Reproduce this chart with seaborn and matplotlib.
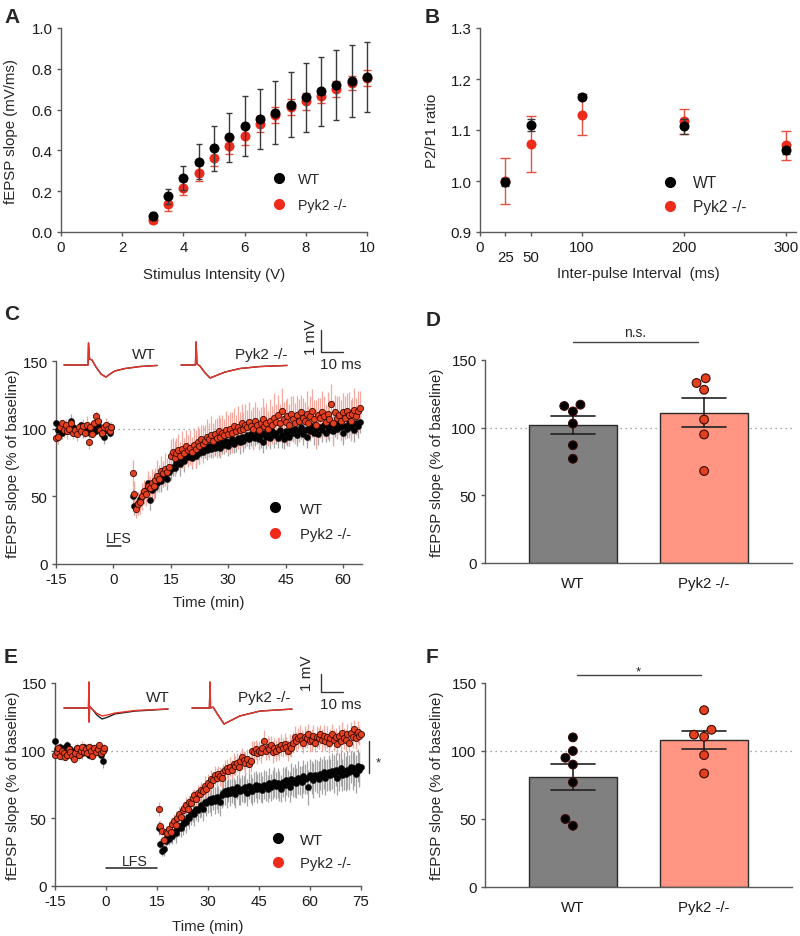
import numpy as np
import pandas as pd
import matplotlib
matplotlib.use("Agg")
import matplotlib.pyplot as plt
from matplotlib.lines import Line2D
import seaborn as sns

# ---------------- data ----------------
# A: input-output
io_volts = [3, 3.5, 4, 4.5, 5, 5.5, 6, 6.5, 7, 7.5, 8, 8.5, 9, 9.5, 10]
io_wt = [0.08, 0.175, 0.265, 0.345, 0.41, 0.465, 0.52, 0.555, 0.585, 0.625, 0.66, 0.69, 0.72, 0.74, 0.76]
io_wt_err = [0.02, 0.038, 0.06, 0.085, 0.11, 0.12, 0.147, 0.147, 0.153, 0.16, 0.17, 0.17, 0.17, 0.178, 0.17]
io_ko = [0.06, 0.135, 0.215, 0.29, 0.362, 0.422, 0.472, 0.53, 0.575, 0.612, 0.64, 0.665, 0.70, 0.73, 0.755]
io_ko_err = [0.015, 0.03, 0.035, 0.04, 0.04, 0.04, 0.045, 0.04, 0.04, 0.04, 0.04, 0.035, 0.04, 0.035, 0.04]

# B: paired-pulse ratio
ppf_interval = [25, 50, 100, 200, 300]
ppf_wt = [0.998, 1.110, 1.165, 1.107, 1.060]
ppf_wt_err = [0.008, 0.012, 0.005, 0.015, 0.007]
ppf_ko = [1.000, 1.072, 1.130, 1.117, 1.070]
ppf_ko_err = [0.045, 0.055, 0.040, 0.025, 0.028]

# C: LFS 2 min time course (baseline -15..-0.5 min, post 5..64.5 min, 0.5 min steps)
c_base_start, c_post_start, tc_step = -15.0, 5.0, 0.5
c_wt_base = [104, 99, 101, 97, 103, 100, 98, 102, 106, 101, 99, 97, 100, 103, 98,
             101, 102, 100, 97, 99, 101, 98, 103, 100, 96, 94, 99, 102, 97, 101]
c_wt_base_err = [3, 4, 3, 5, 3, 4, 3, 4, 5, 3, 4, 3, 4, 3, 5, 4, 3, 4, 3, 4, 5, 3, 4, 3, 4, 5, 3, 4, 3, 4]
c_ko_base = [93, 94, 101, 104, 99, 103, 98, 100, 104, 97, 99, 96, 101, 98, 102,
             97, 103, 90, 101, 96, 104, 109, 106, 99, 97, 101, 103, 100, 98, 101]
c_ko_base_err = [4, 5, 4, 3, 5, 4, 6, 4, 3, 5, 4, 5, 4, 3, 5, 4, 6, 5, 4, 3, 5, 4, 3, 5, 4, 3, 5, 4, 3, 4]
c_wt_post = [50, 43, 42, 45, 48, 50, 52, 55, 60, 47,
             55, 58, 57, 60, 62, 61, 64, 66, 63, 68,
             70, 72, 71, 75, 77, 74, 78, 76, 80, 79,
             81, 78, 83, 80, 84, 82, 85, 83, 86, 84,
             87, 85, 88, 86, 89, 87, 86, 90, 88, 91,
             87, 90, 92, 89, 91, 93, 90, 94, 91, 93,
             95, 92, 96, 94, 93, 97, 92, 95, 90, 97,
             94, 96, 93, 98, 95, 97, 93, 99, 95, 92,
             98, 96, 94, 99, 97, 100, 95, 98, 101, 96,
             99, 94, 100, 98, 102, 97, 100, 96, 101, 99,
             103, 97, 101, 99, 103, 98, 102, 100, 104, 101,
             97, 102, 100, 104, 101, 103, 99, 104, 102, 105]
c_wt_post_err = [6, 7, 6, 8, 7, 6, 8, 7, 6, 7,
                 7, 6, 8, 7, 6, 8, 7, 6, 8, 7,
                 8, 7, 6, 8, 7, 9, 7, 8, 6, 7,
                 7, 8, 6, 9, 7, 8, 7, 6, 8, 7,
                 8, 7, 9, 6, 8, 7, 8, 9, 7, 8,
                 7, 9, 8, 7, 8, 6, 9, 7, 8, 7,
                 8, 7, 9, 8, 6, 8, 7, 9, 8, 7,
                 9, 7, 8, 6, 9, 8, 7, 8, 9, 7,
                 8, 9, 7, 8, 6, 9, 8, 7, 9, 8,
                 7, 8, 9, 7, 8, 9, 6, 8, 7, 9,
                 8, 7, 9, 8, 7, 9, 8, 7, 8, 9,
                 9, 8, 7, 9, 8, 7, 9, 8, 9, 8]
c_ko_post = [67, 52, 41, 44, 46, 50, 54, 52, 58, 56,
             60, 58, 62, 65, 63, 69, 67, 70, 68, 72,
             80, 83, 78, 82, 84, 80, 85, 82, 87, 84,
             86, 83, 88, 85, 90, 87, 92, 89, 91, 94,
             92, 95, 91, 96, 93, 98, 94, 97, 95, 99,
             96, 100, 97, 102, 98, 101, 99, 104, 100, 103,
             101, 105, 102, 100, 106, 103, 99, 104, 107, 102,
             104, 100, 106, 103, 108, 105, 110, 104, 113, 107,
             105, 109, 103, 111, 107, 104, 110, 106, 112, 108,
             106, 111, 104, 109, 113, 107, 103, 110, 108, 112,
             109, 105, 111, 107, 118, 104, 112, 108, 110, 106,
             112, 108, 113, 110, 106, 111, 114, 109, 113, 115]
c_ko_post_err = [10, 9, 7, 8, 9, 10, 8, 9, 11, 9,
                 10, 11, 9, 12, 10, 11, 9, 12, 10, 11,
                 12, 10, 13, 11, 12, 10, 13, 11, 12, 11,
                 13, 11, 12, 14, 12, 13, 11, 14, 12, 13,
                 12, 14, 13, 11, 15, 12, 14, 13, 12, 14,
                 14, 12, 15, 13, 12, 16, 13, 14, 12, 15,
                 13, 15, 12, 16, 14, 13, 15, 12, 16, 14,
                 15, 13, 16, 14, 18, 13, 15, 14, 17, 13,
                 16, 14, 15, 13, 17, 15, 14, 16, 13, 15,
                 14, 17, 13, 15, 16, 14, 18, 13, 15, 16,
                 15, 13, 16, 14, 15, 17, 13, 16, 14, 15,
                 14, 16, 13, 17, 15, 12, 16, 14, 15, 13]

# E: LFS 15 min time course (baseline -15..-0.5, post 15.5..75 min)
e_base_start, e_post_start = -15.0, 15.5
e_wt_base = [107, 101, 99, 103, 97, 102, 100, 104, 98, 101, 99, 96, 100, 102, 97,
             101, 98, 103, 99, 100, 97, 102, 98, 101, 99, 103, 100, 97, 92, 101]
e_wt_base_err = [3, 4, 3, 3, 4, 3, 4, 3, 3, 4, 3, 4, 3, 3, 4, 3, 4, 3, 3, 4, 3, 4, 3, 4, 3, 3, 4, 3, 5, 4]
e_ko_base = [97, 99, 102, 96, 100, 98, 95, 97, 101, 99, 96, 94, 98, 102, 97,
             100, 103, 99, 101, 98, 103, 100, 96, 102, 99, 101, 104, 98, 100, 102]
e_ko_base_err = [3, 3, 4, 3, 3, 4, 3, 3, 4, 3, 4, 3, 3, 4, 3, 3, 4, 3, 4, 3, 3, 4, 3, 3, 4, 3, 3, 4, 3, 3]
e_wt_post = [43, 31, 26, 27, 33, 36, 35, 38, 37, 40,
             39, 42, 44, 43, 46, 48, 47, 51, 50, 53,
             55, 53, 57, 56, 58, 60, 57, 62, 61, 63,
             64, 62, 65, 63, 66, 64, 62, 67, 69, 70,
             68, 71, 69, 72, 70, 68, 73, 71, 70, 72,
             71, 73, 69, 74, 72, 70, 73, 75, 72, 74,
             73, 71, 75, 74, 72, 76, 73, 75, 77, 74,
             76, 74, 72, 77, 75, 78, 76, 73, 79, 77,
             78, 76, 80, 78, 77, 81, 79, 80, 73, 82,
             80, 78, 82, 81, 79, 83, 81, 84, 80, 82,
             84, 82, 85, 83, 86, 80, 84, 87, 82, 85,
             83, 86, 84, 88, 85, 87, 83, 89, 86, 88]
e_wt_post_err = [5, 4, 4, 5, 5, 6, 5, 6, 6, 6,
                 7, 6, 7, 7, 8, 7, 8, 7, 8, 8,
                 8, 9, 8, 9, 8, 9, 9, 8, 9, 9,
                 9, 10, 9, 10, 9, 10, 10, 9, 10, 10,
                 10, 9, 10, 11, 10, 10, 9, 11, 10, 10,
                 10, 11, 10, 10, 11, 10, 11, 10, 11, 10,
                 11, 10, 11, 11, 10, 11, 10, 11, 11, 10,
                 11, 11, 10, 11, 12, 11, 10, 11, 12, 11,
                 12, 11, 12, 11, 12, 12, 11, 12, 13, 12,
                 12, 13, 12, 12, 13, 12, 13, 12, 13, 12,
                 13, 12, 13, 14, 12, 13, 14, 13, 12, 14,
                 13, 14, 13, 12, 14, 13, 14, 12, 13, 14]
e_ko_post = [57, 44, 41, 34, 40, 39, 42, 40, 46, 48,
             45, 50, 53, 51, 56, 58, 60, 57, 62, 61,
             65, 67, 64, 69, 68, 71, 70, 74, 72, 76,
             75, 79, 78, 82, 80, 83, 81, 80, 84, 86,
             87, 85, 88, 86, 90, 89, 91, 88, 92, 95,
             93, 91, 94, 90, 92, 100, 99, 101, 98, 100,
             99, 102, 107, 100, 103, 101, 104, 99, 102, 100,
             103, 101, 104, 102, 105, 103, 100, 104, 102, 106,
             110, 107, 109, 111, 108, 106, 110, 109, 112, 107,
             108, 111, 106, 110, 109, 112, 108, 111, 107, 110,
             106, 109, 112, 108, 110, 105, 111, 107, 113, 109,
             108, 112, 106, 113, 110, 116, 109, 114, 111, 112]
e_ko_post_err = [5, 4, 4, 4, 4, 5, 4, 5, 5, 5,
                 5, 5, 6, 5, 6, 5, 6, 6, 5, 6,
                 6, 5, 6, 6, 7, 6, 6, 7, 6, 7,
                 6, 7, 6, 7, 7, 6, 7, 7, 6, 7,
                 7, 6, 7, 7, 8, 7, 7, 8, 7, 7,
                 7, 8, 7, 7, 8, 7, 8, 7, 8, 7,
                 8, 7, 8, 7, 8, 8, 7, 8, 7, 8,
                 7, 8, 8, 7, 8, 7, 8, 8, 7, 8,
                 8, 7, 8, 8, 7, 8, 8, 7, 8, 8,
                 8, 8, 7, 8, 8, 7, 8, 8, 7, 8,
                 8, 7, 8, 8, 7, 8, 8, 7, 8, 8,
                 8, 8, 7, 8, 8, 7, 8, 8, 7, 9]

# D / F: individual slices (% of baseline)
groups = ['WT', 'Pyk2 -/-']
d_wt = [116, 112, 117, 103, 87, 77]
d_ko = [133, 136.5, 128, 106, 95, 68]
f_wt = [110, 100, 95, 90, 77, 50, 45]
f_ko = [130, 115.6, 110.5, 112, 97, 83.5]

# example traces (ms, mV)
c_wt_tr_t = [0, 11.2, 11.4, 11.9, 13.0, 14.9, 17.2, 19.5, 21.4, 23.7, 28.4, 35.3, 43.3]
c_wt_tr_v = [0, 0, 1.0, 0.27, 0.23, -0.09, -0.41, -0.55, -0.41, -0.27, -0.16, -0.07, -0.02]
c_ko_tr_t = [0, 6.7, 7.0, 7.4, 8.8, 11.2, 13.5, 15.8, 20.5, 27.4, 36.7, 49.3]
c_ko_tr_v = [0, 0, 1.05, 0.05, -0.05, -0.36, -0.59, -0.5, -0.32, -0.16, -0.07, -0.02]
e_wt_tr_t = [0, 11.4, 11.6, 11.7, 11.9, 13.0, 15.3, 17.7, 20.5, 23.7, 33.0, 48.4]
e_wt_tr_v_black = [0, 0, 1.44, -0.78, 0.1, -0.05, -0.39, -0.61, -0.5, -0.33, -0.17, -0.06]
e_wt_tr_v_red = [0, 0, 1.44, -0.78, 0.1, -0.05, -0.30, -0.44, -0.38, -0.28, -0.14, -0.05]
e_ko_tr_t = [0, 8.1, 8.4, 8.6, 9.8, 12.1, 14.9, 16.7, 22.3, 31.6, 46.5]
e_ko_tr_v = [0, 0, 1.44, 0, 0.05, -0.39, -0.89, -0.78, -0.44, -0.17, -0.06]

# ---------------- style ----------------
sns.set_style("ticks")
plt.rcParams['font.family'] = ['Liberation Sans', 'DejaVu Sans']
plt.rcParams['axes.unicode_minus'] = False
plt.rcParams['axes.edgecolor'] = '#5a5a5a'
plt.rcParams['axes.linewidth'] = 1.0
plt.rcParams['xtick.color'] = '#5a5a5a'
plt.rcParams['ytick.color'] = '#5a5a5a'
plt.rcParams['xtick.labelcolor'] = '#1a1a1a'
plt.rcParams['ytick.labelcolor'] = '#1a1a1a'

BLACK = '#000000'
RED = '#EE2B1B'
RED_ERR = '#E4503F'
TC_RED = '#E2401F'
TC_RED_EDGE = '#3a0a05'
TC_RED_ERR = '#F5A89E'
TC_GRAY_ERR = '#A3A3A3'
BAR_GRAY = '#808080'
BAR_SALMON = '#FF9582'
TRACE_RED = '#E8332A'
FS = 10.8
LAB_FS = 10.8
TR_FS = 11

W, H = 800, 937
fig = plt.figure(figsize=(8, 9.37), dpi=100)


def rect(l, t, r, b):
    return [l / W, 1 - b / H, (r - l) / W, (b - t) / H]


def style_axis(ax, l, t, r, b, ylab_right=None, xlab_top=None):
    sns.despine(ax=ax)
    ax.tick_params(length=3.0, width=1.0, pad=3, labelsize=FS)
    if ylab_right is not None:
        ax.yaxis.set_label_coords((ylab_right - l) / (r - l), 0.5)
    if xlab_top is not None:
        ax.xaxis.set_label_coords(0.5, -(xlab_top - b) / (b - t))


def add_legend(ax, mx, my, gap_text, row_gap, wt_color, ko_color, fs, ms=7):
    fs_px = fs * 100 / 72
    hl = 1.0
    htp = gap_text / fs_px - hl / 2
    ls = (row_gap - 1.16 * fs_px) / fs_px
    handles = [Line2D([], [], ls='', marker='o', ms=ms, mfc=wt_color, mec=wt_color),
               Line2D([], [], ls='', marker='o', ms=ms, mfc=ko_color, mec=ko_color)]
    ax.legend(handles, groups, loc='center left',
              bbox_to_anchor=((mx - hl * fs_px / 2) / W, 1 - (my + row_gap / 2) / H),
              bbox_transform=fig.transFigure, frameon=False, borderpad=0,
              borderaxespad=0, handlelength=hl, handletextpad=htp,
              labelspacing=ls, fontsize=fs)


def panel_letter(x, y, s):
    fig.text(x / W, 1 - y / H, s, fontsize=15, fontweight='bold', ha='left', va='top')


# ---------------- A ----------------
A = (61, 29, 367, 233)
axA = fig.add_axes(rect(*A))
axA.errorbar(io_volts, io_ko, yerr=io_ko_err, fmt='none', ecolor=RED_ERR, elinewidth=1,
             capsize=3, capthick=1, zorder=2, clip_on=False)
sns.scatterplot(x=io_volts, y=io_ko, color=RED, s=52, edgecolor=RED, linewidth=0,
                ax=axA, zorder=3, clip_on=False, legend=False)
axA.errorbar(io_volts, io_wt, yerr=io_wt_err, fmt='none', ecolor='#3a3a3a', elinewidth=1,
             capsize=2.3, capthick=1, zorder=4, clip_on=False)
sns.scatterplot(x=io_volts, y=io_wt, color=BLACK, s=52, edgecolor=BLACK, linewidth=0,
                ax=axA, zorder=5, clip_on=False, legend=False)
axA.set_xlim(0, 10)
axA.set_ylim(0, 1.0)
axA.set_xticks([0, 2, 4, 6, 8, 10])
axA.set_yticks([0, 0.2, 0.4, 0.6, 0.8, 1.0])
axA.set_yticklabels(['0.0', '0.2', '0.4', '0.6', '0.8', '1.0'])
axA.set_xlabel('Stimulus Intensity (V)', fontsize=LAB_FS)
axA.set_ylabel('fEPSP slope (mV/ms)', fontsize=LAB_FS)
style_axis(axA, *A, ylab_right=18, xlab_top=268)
add_legend(axA, 279, 179, 19, 28, BLACK, RED, fs=10.2)
panel_letter(4, 8, 'A')

# ---------------- B ----------------
B = (480, 29, 796, 233)
axB = fig.add_axes(rect(*B))
axB.errorbar(ppf_interval, ppf_ko, yerr=ppf_ko_err, fmt='none', ecolor=RED_ERR, elinewidth=1,
             capsize=3.5, capthick=1, zorder=2, clip_on=False)
sns.scatterplot(x=ppf_interval, y=ppf_ko, color=RED, s=52, edgecolor=RED, linewidth=0,
                ax=axB, zorder=3, clip_on=False, legend=False)
axB.errorbar(ppf_interval, ppf_wt, yerr=ppf_wt_err, fmt='none', ecolor='#3a3a3a', elinewidth=1,
             capsize=3, capthick=1, zorder=4, clip_on=False)
sns.scatterplot(x=ppf_interval, y=ppf_wt, color=BLACK, s=52, edgecolor=BLACK, linewidth=0,
                ax=axB, zorder=5, clip_on=False, legend=False)
axB.set_xlim(0, 310)
axB.set_ylim(0.9, 1.3)
axB.set_xticks([0, 100, 200, 300])
axB.set_xticks([25, 50], minor=True)
axB.set_xticklabels(['25', '50'], minor=True)
axB.set_yticks([0.9, 1.0, 1.1, 1.2, 1.3])
axB.set_yticklabels(['0.9', '1.0', '1.1', '1.2', '1.3'])
axB.set_xlabel('Inter-pulse Interval  (ms)', fontsize=LAB_FS)
axB.set_ylabel('P2/P1 ratio', fontsize=LAB_FS)
style_axis(axB, *B, ylab_right=439, xlab_top=267)
axB.tick_params(axis='x', which='minor', length=3.0, width=1.0, pad=10, labelsize=FS)
add_legend(axB, 670, 182, 23, 27, BLACK, RED, fs=11.2)
panel_letter(425, 8, 'B')


# ---------------- time courses ----------------
def time_course(ax, base_start, post_start, wt_b, wt_be, ko_b, ko_be, wt_p, wt_pe, ko_p, ko_pe):
    n_b = min(len(wt_b), len(wt_be), len(ko_b), len(ko_be))
    n_p = min(len(wt_p), len(wt_pe), len(ko_p), len(ko_pe))
    tb = base_start + tc_step * np.arange(n_b)
    tp = post_start + tc_step * np.arange(n_p)
    t = np.concatenate([tb, tp])
    wt = np.concatenate([wt_b[:n_b], wt_p[:n_p]])
    wte = np.concatenate([wt_be[:n_b], wt_pe[:n_p]])
    ko = np.concatenate([ko_b[:n_b], ko_p[:n_p]])
    koe = np.concatenate([ko_be[:n_b], ko_pe[:n_p]])
    ax.errorbar(t, wt, yerr=wte, fmt='none', ecolor=TC_GRAY_ERR, elinewidth=0.9, zorder=2)
    ax.errorbar(t, ko, yerr=koe, fmt='none', ecolor=TC_RED_ERR, elinewidth=0.9, zorder=2)
    sns.scatterplot(x=t, y=wt, color=BLACK, s=20, edgecolor='#111111', linewidth=0.3,
                    ax=ax, zorder=3, legend=False, clip_on=False)
    sns.scatterplot(x=t, y=ko, color=TC_RED, s=20, edgecolor=TC_RED_EDGE, linewidth=0.6,
                    ax=ax, zorder=4, legend=False, clip_on=False)


C = (56, 362, 362, 565)
axC = fig.add_axes(rect(*C))
axC.plot([0, 65], [100, 100], ls=(0, (1, 3)), color='#8a8a8a', lw=0.9, zorder=1)
time_course(axC, c_base_start, c_post_start, c_wt_base, c_wt_base_err, c_ko_base, c_ko_base_err,
            c_wt_post, c_wt_post_err, c_ko_post, c_ko_post_err)
axC.set_xlim(-15, 65)
axC.set_ylim(0, 150)
axC.set_xticks([-15, 0, 15, 30, 45, 60])
axC.set_yticks([0, 50, 100, 150])
axC.set_xlabel('Time (min)', fontsize=LAB_FS)
axC.set_ylabel('fEPSP slope (% of baseline)', fontsize=LAB_FS)
style_axis(axC, *C, ylab_right=20, xlab_top=596)
axC.plot([-1.6, 2.0], [13.3, 13.3], color='#222222', lw=1.1, clip_on=False)
axC.text(1.5, 16.3, 'LFS', ha='center', va='baseline', fontsize=10.2)
add_legend(axC, 275, 508, 25, 29, BLACK, RED, fs=10.7)
panel_letter(4, 305, 'C')

E = (55, 684, 361, 887)
axE = fig.add_axes(rect(*E))
axE.plot([0, 75], [100, 100], ls=(0, (1, 3)), color='#8a8a8a', lw=0.9, zorder=1)
time_course(axE, e_base_start, e_post_start, e_wt_base, e_wt_base_err, e_ko_base, e_ko_base_err,
            e_wt_post, e_wt_post_err, e_ko_post, e_ko_post_err)
axE.set_xlim(-15, 75)
axE.set_ylim(0, 150)
axE.set_xticks([-15, 0, 15, 30, 45, 60, 75])
axE.set_yticks([0, 50, 100, 150])
axE.set_xlabel('Time (min)', fontsize=LAB_FS)
axE.set_ylabel('fEPSP slope (% of baseline)', fontsize=LAB_FS)
style_axis(axE, *E, ylab_right=20, xlab_top=920)
axE.plot([0, 15], [13.3, 13.3], color='#222222', lw=1.1, clip_on=False)
axE.text(8.5, 15.5, 'LFS', ha='center', va='baseline', fontsize=10.2)
axE.plot([77.4, 77.4], [83.6, 107], color='#333333', lw=1.0, clip_on=False)
axE.text(80.2, 89, '*', ha='center', va='baseline', fontsize=9.5)
add_legend(axE, 278, 839, 22, 27, BLACK, RED, fs=10.7)
panel_letter(4, 648, 'E')


# ---------------- bar panels ----------------
def bar_panel(ax, wt_vals, ko_vals):
    df = pd.DataFrame({'group': ['WT'] * len(wt_vals) + ['Pyk2 -/-'] * len(ko_vals),
                       'val': list(wt_vals) + list(ko_vals)})
    ax.axhline(100, ls=(0, (1, 3)), color='#8a8a8a', lw=0.9, zorder=0)
    sns.barplot(data=df, x='group', y='val', hue='group', order=groups, hue_order=groups,
                palette={'WT': BAR_GRAY, 'Pyk2 -/-': BAR_SALMON}, errorbar='se',
                capsize=0.33, width=0.67, edgecolor='#2a2a2a', linewidth=1.0, saturation=1,
                err_kws={'color': '#222222', 'linewidth': 1.2}, legend=False, ax=ax)
    sns.swarmplot(data=df, x='group', y='val', hue='group', order=groups, hue_order=groups,
                  palette={'WT': BLACK, 'Pyk2 -/-': TC_RED}, size=6.3,
                  edgecolor=TC_RED_EDGE, linewidth=0.8, legend=False, ax=ax, zorder=5)
    ax.set_xlim(-0.67, 1.67)
    ax.set_ylim(0, 150)
    ax.set_yticks([0, 50, 100, 150])
    ax.set_xlabel('')
    ax.set_ylabel('fEPSP slope (% of baseline)', fontsize=LAB_FS)


D = (485, 361, 792, 564)
axD = fig.add_axes(rect(*D))
bar_panel(axD, d_wt, d_ko)
style_axis(axD, *D, ylab_right=444)
axD.tick_params(axis='x', length=0, pad=9.5)
axD.plot([0.0, 0.95], [163.3, 163.3], color='#444444', lw=1.0, clip_on=False)
axD.text(0.475, 165.3, 'n.s.', ha='center', va='bottom', fontsize=10)
panel_letter(426, 311, 'D')

F = (485, 684, 792, 888)
axF = fig.add_axes(rect(*F))
bar_panel(axF, f_wt, f_ko)
style_axis(axF, *F, ylab_right=444)
axF.tick_params(axis='x', length=0, pad=9.5)
axF.plot([0.03, 0.98], [155.9, 155.9], color='#444444', lw=1.0, clip_on=False)
axF.text(0.5, 156.3, '*', ha='center', va='baseline', fontsize=9.5)
panel_letter(426, 648, 'F')

# ---------------- example traces ----------------
MS_PX = 2.15


def trace_axes(l, t, r, b, base_py, mv_px):
    ax = fig.add_axes(rect(l, t, r, b))
    ax.set_xlim(0, (r - l) / MS_PX)
    ax.set_ylim((base_py - b) / mv_px, (base_py - t) / mv_px)
    ax.axis('off')
    return ax


tC = trace_axes(60, 318, 370, 392, 366, 22)
tC.plot(np.array(c_wt_tr_t) + 1.86, c_wt_tr_v, color='#222222', lw=1.0)
tC.plot(np.array(c_wt_tr_t) + 1.86, c_wt_tr_v, color=TRACE_RED, lw=1.0)
tC.plot(np.array(c_ko_tr_t) + 56.3, c_ko_tr_v, color='#222222', lw=1.0)
tC.plot(np.array(c_ko_tr_t) + 56.3, c_ko_tr_v, color=TRACE_RED, lw=1.0)
tC.plot([121.4, 121.4, 131.4], [1.59, 0.59, 0.59], color='#333333', lw=1.0)
tC.text(44.7, 0.5, 'WT', ha='right', va='center', fontsize=TR_FS)
tC.text(105.6, 0.5, 'Pyk2 -/-', ha='right', va='center', fontsize=TR_FS)
tC.text(116.8, 1.32, '1 mV', ha='center', va='center', rotation=90, fontsize=TR_FS)
tC.text(121.0, 0.05, '10 ms', ha='left', va='center', fontsize=TR_FS)

tE = trace_axes(60, 640, 370, 740, 709, 18)
tE.plot(np.array(e_wt_tr_t) + 1.86, e_wt_tr_v_black, color='#222222', lw=1.0)
tE.plot(np.array(e_wt_tr_t) + 1.86, e_wt_tr_v_red, color=TRACE_RED, lw=1.0)
tE.plot(np.array(e_ko_tr_t) + 61.4, e_ko_tr_v, color='#222222', lw=1.0)
tE.plot(np.array(e_ko_tr_t) + 61.4, e_ko_tr_v, color=TRACE_RED, lw=1.0)
tE.plot([121.4, 121.4, 131.4], [1.89, 0.89, 0.89], color='#333333', lw=1.0)
tE.text(51.2, 0.61, 'WT', ha='right', va='center', fontsize=TR_FS)
tE.text(107.0, 0.61, 'Pyk2 -/-', ha='right', va='center', fontsize=TR_FS)
tE.text(114.7, 2.0, '1 mV', ha='center', va='center', rotation=90, fontsize=TR_FS)
tE.text(121.0, 0.22, '10 ms', ha='left', va='center', fontsize=TR_FS)

fig.savefig('out.png', dpi=100)
